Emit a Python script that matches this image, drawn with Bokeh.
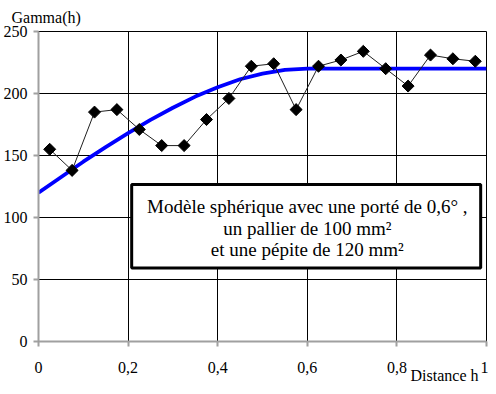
import numpy as np
from bokeh.plotting import figure
from bokeh.models import (FixedTicker, CustomJSTickFormatter, BoxAnnotation, Label, Range1d, Title)
from bokeh.embed import file_html
from bokeh.resources import INLINE

h_exp = [0.025, 0.075, 0.125, 0.175, 0.225, 0.275, 0.325, 0.375, 0.425, 0.475,
         0.525, 0.575, 0.625, 0.675, 0.725, 0.775, 0.825, 0.875, 0.925, 0.975]
gamma_exp = [155, 138, 185, 187, 171, 158, 158, 179, 196, 222,
             224, 187, 222, 227, 234, 220, 206, 231, 228, 226]

# Spherical model curve
h_mod = [0.0, 0.05, 0.1, 0.15, 0.2, 0.25, 0.3, 0.35, 0.4, 0.45, 0.5, 0.55, 0.6, 0.7, 0.8, 0.9, 1.0]
gamma_mod = [120, 132.5, 145, 156.7, 168, 178.7, 188.5, 197.5, 205, 211.5, 216, 219, 220, 220, 220, 220, 220]

x_ticks = [0, 0.2, 0.4, 0.6, 0.8, 1.0]
y_ticks = [0, 50, 100, 150, 200, 250]

y_title = "Gamma(h)"
x_title = "Distance h"
box_lines = ["Modèle sphérique avec une porté de 0,6° ,",
             "un pallier de 100 mm²",
             "et une pépite de 120 mm²"]

FONT = "Liberation Serif"

p = figure(width=488, height=386, output_backend="svg", toolbar_location=None,
           x_range=Range1d(0, 1), y_range=Range1d(0, 250),
           min_border_left=36, min_border_right=2, min_border_top=31, min_border_bottom=43)
p.background_fill_color = "white"
p.border_fill_color = "white"
p.outline_line_color = "black"
p.outline_line_width = 1

p.title = Title(text=y_title, align="left", offset=-27, standoff=12)
p.title.text_font = FONT
p.title.text_font_size = "16px"
p.title.text_font_style = "normal"
p.title.text_color = "black"

for ax, ticks in ((p.xaxis[0], x_ticks), (p.yaxis[0], y_ticks)):
    ax.ticker = FixedTicker(ticks=ticks)
    ax.minor_tick_line_color = None
    ax.axis_line_color = "#a0a0a0"
    ax.axis_line_width = 2
    ax.major_tick_line_color = "#a0a0a0"
    ax.major_tick_line_width = 2
    ax.major_tick_in = 0
    ax.major_label_text_font = FONT
    ax.major_label_text_font_size = "16px"
    ax.major_label_text_color = "black"
p.xaxis.major_tick_out = 5
p.yaxis.major_tick_out = 5
p.yaxis.major_label_standoff = 6
p.xaxis.major_label_standoff = 15
p.xaxis.formatter = CustomJSTickFormatter(code="return tick.toString().replace('.', ',');")

xa = p.xaxis[0]
xa.axis_label_text_font = FONT
xa.axis_label_text_font_size = "16px"
xa.axis_label_text_font_style = "normal"
xa.axis_label_text_color = "black"
xa.axis_label_standoff = -9
# push the centred axis title to the right end with non-breaking spaces
xa.axis_label = "\u00a0" * 91 + x_title

p.xgrid.ticker = FixedTicker(ticks=x_ticks[1:])
p.ygrid.ticker = FixedTicker(ticks=y_ticks[1:])
p.xgrid.grid_line_color = "black"
p.ygrid.grid_line_color = "black"
p.xgrid.grid_line_width = 1
p.ygrid.grid_line_width = 1

# model curve
p.line(h_mod, gamma_mod, line_color="#0000ff", line_width=3.8)
# experimental
p.line(h_exp, gamma_exp, line_color="#202020", line_width=1)
p.scatter(h_exp, gamma_exp, marker="square", size=8.5, angle=np.pi / 4,
          fill_color="black", line_color="black")

# annotation box
box = BoxAnnotation(left=0.208, right=0.987, bottom=59.3, top=126.6,
                    fill_color="white", fill_alpha=1.0, line_color="black",
                    line_alpha=1.0, line_width=3)
p.add_layout(box)
for txt, yy in zip(box_lines, [109, 91.3, 74.5]):
    p.add_layout(Label(x=0.6, y=yy, text=txt, text_align="center", text_baseline="middle",
                       text_font=FONT, text_font_size="19px", text_color="black"))

open("out.html", "w").write(file_html(p, INLINE))
